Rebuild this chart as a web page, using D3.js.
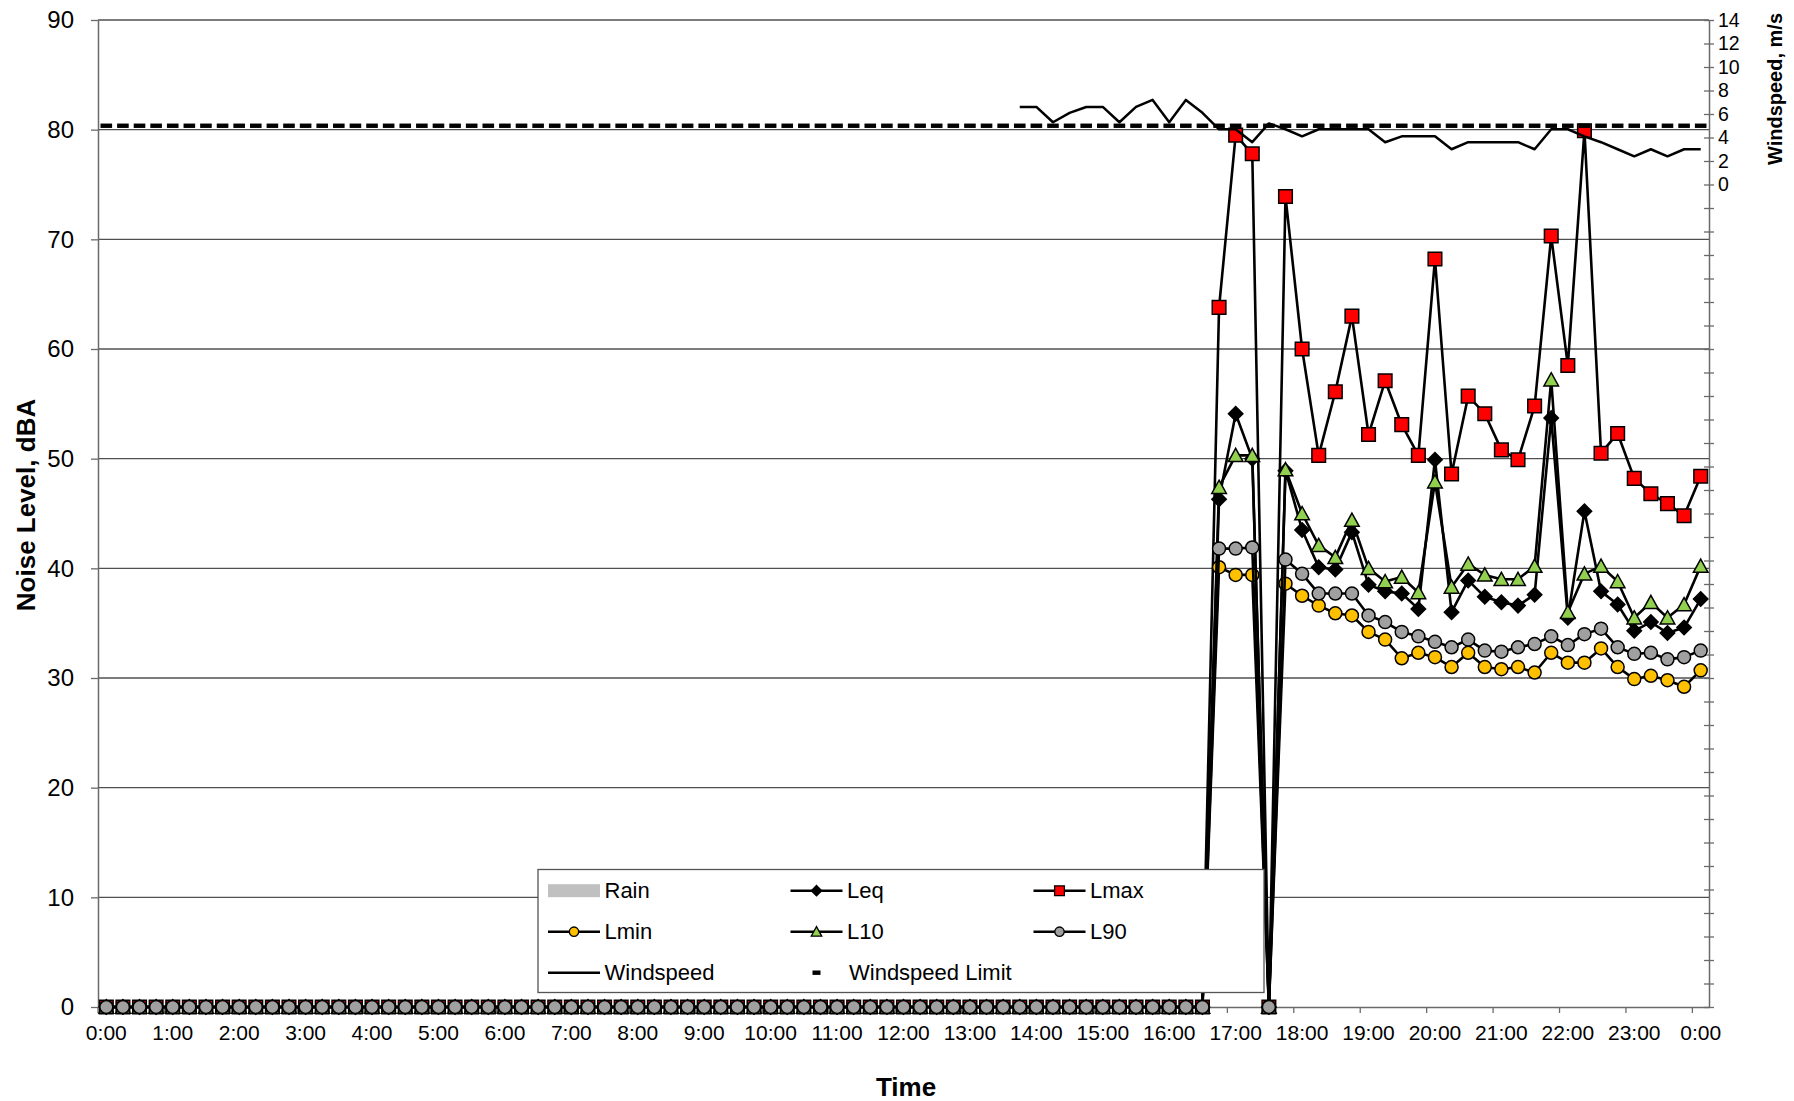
<!DOCTYPE html>
<html>
<head>
<meta charset="UTF-8">
<title>noise levels</title>
<script src="https://d3js.org/d3.v7.min.js"></script>
<style>
body { margin: 0; background: #fff; }
svg { display: block; font-family: "Liberation Sans", Arial, sans-serif; }
</style>
</head>
<body>
<svg id="chart" width="1794" height="1101"></svg>
<script>
// ---- data (15 minute intervals, 0:00 to 0:00 next day) ----
var categories = [];
for (var k = 0; k < 97; k++) {
	categories.push((Math.floor(k / 4) % 24) + ":" + ["00", "15", "30", "45"][k % 4]);
}
var tickLabels = ["0:00", "1:00", "2:00", "3:00", "4:00", "5:00", "6:00", "7:00", "8:00", "9:00",
	"10:00", "11:00", "12:00", "13:00", "14:00", "15:00", "16:00", "17:00", "18:00", "19:00",
	"20:00", "21:00", "22:00", "23:00", "0:00"];

var rain = [
	0,0,0,0,0,0,0,0,0,0,0,0,0,0,0,0, 0,0,0,0,0,0,0,0,0,0,0,0,0,0,0,0,
	0,0,0,0,0,0,0,0,0,0,0,0,0,0,0,0, 0,0,0,0,0,0,0,0,0,0,0,0,0,0,0,0,
	0,0,0,0,0,0,0,0,0,0,0,0,0,0,0,0, 0,0,0,0,0,0,0,0,0,0,0,0,0,0,0,0,
	0
];
var leq = [
	0,0,0,0,0,0,0,0,0,0,0,0,0,0,0,0, 0,0,0,0,0,0,0,0,0,0,0,0,0,0,0,0,
	0,0,0,0,0,0,0,0,0,0,0,0,0,0,0,0, 0,0,0,0,0,0,0,0,0,0,0,0,0,0,0,0,
	0,0,0,
	46.3, 54.1, 50.0, 0, 48.9, 43.5, 40.1, 39.9, 43.3, 38.5, 37.9, 37.7, 36.3, 49.9, 36.0, 38.9,
	37.4, 36.9, 36.6, 37.6, 53.7, 35.5, 45.2, 37.9, 36.7, 34.3, 35.1, 34.1, 34.6, 37.2
];
var lmax = [
	0,0,0,0,0,0,0,0,0,0,0,0,0,0,0,0, 0,0,0,0,0,0,0,0,0,0,0,0,0,0,0,0,
	0,0,0,0,0,0,0,0,0,0,0,0,0,0,0,0, 0,0,0,0,0,0,0,0,0,0,0,0,0,0,0,0,
	0,0,0,
	63.8, 79.5, 77.8, 0, 73.9, 60.0, 50.3, 56.1, 63.0, 52.2, 57.1, 53.1, 50.3, 68.2, 48.6, 55.7,
	54.1, 50.8, 49.9, 54.8, 70.3, 58.5, 79.9, 50.5, 52.3, 48.2, 46.8, 45.9, 44.8, 48.4
];
var lmin = [
	0,0,0,0,0,0,0,0,0,0,0,0,0,0,0,0, 0,0,0,0,0,0,0,0,0,0,0,0,0,0,0,0,
	0,0,0,0,0,0,0,0,0,0,0,0,0,0,0,0, 0,0,0,0,0,0,0,0,0,0,0,0,0,0,0,0,
	0,0,0,
	40.1, 39.4, 39.4, 0, 38.6, 37.5, 36.6, 35.9, 35.7, 34.2, 33.5, 31.8, 32.3, 31.9, 31.0, 32.3,
	31.0, 30.8, 31.0, 30.5, 32.3, 31.4, 31.4, 32.7, 31.0, 29.9, 30.2, 29.8, 29.2, 30.7
];
var l10 = [
	0,0,0,0,0,0,0,0,0,0,0,0,0,0,0,0, 0,0,0,0,0,0,0,0,0,0,0,0,0,0,0,0,
	0,0,0,0,0,0,0,0,0,0,0,0,0,0,0,0, 0,0,0,0,0,0,0,0,0,0,0,0,0,0,0,0,
	0,0,0,
	47.4, 50.3, 50.3, 0, 49.0, 45.0, 42.1, 41.0, 44.4, 40.0, 38.8, 39.2, 37.8, 47.9, 38.3, 40.4,
	39.4, 39.0, 39.0, 40.2, 57.2, 36.0, 39.5, 40.2, 38.8, 35.5, 36.9, 35.5, 36.7, 40.2
];
var l90 = [
	0,0,0,0,0,0,0,0,0,0,0,0,0,0,0,0, 0,0,0,0,0,0,0,0,0,0,0,0,0,0,0,0,
	0,0,0,0,0,0,0,0,0,0,0,0,0,0,0,0, 0,0,0,0,0,0,0,0,0,0,0,0,0,0,0,0,
	0,0,0,
	41.8, 41.8, 41.9, 0, 40.8, 39.5, 37.7, 37.7, 37.7, 35.7, 35.1, 34.2, 33.8, 33.3, 32.8, 33.5,
	32.5, 32.4, 32.8, 33.1, 33.8, 33.0, 34.0, 34.5, 32.8, 32.2, 32.3, 31.7, 31.9, 32.5
];
// windspeed m/s (secondary axis), no readings before 13:45
var windspeed = [
	null,null,null,null,null,null,null,null,null,null,null,null,null,null,null,null,
	null,null,null,null,null,null,null,null,null,null,null,null,null,null,null,null,
	null,null,null,null,null,null,null,null,null,null,null,null,null,null,null,null,
	null,null,null,null,null,null,null,
	6.6, 6.6, 5.3, 6.1, 6.6, 6.6, 5.3, 6.6, 7.2, 5.3, 7.2, 6.1, 4.7, 4.7, 3.6, 5.2,
	4.7, 4.1, 4.7, 4.7, 4.7, 4.7, 3.6, 4.1, 4.1, 4.1, 3.0, 3.6, 3.6, 3.6, 3.6, 3.0,
	4.7, 4.7, 4.1, 3.6, 3.0, 2.4, 3.0, 2.4, 3.0, 3.0
];
var windLimit = [
	5,5,5,5,5,5,5,5,5,5,5,5,5,5,5,5, 5,5,5,5,5,5,5,5,5,5,5,5,5,5,5,5,
	5,5,5,5,5,5,5,5,5,5,5,5,5,5,5,5, 5,5,5,5,5,5,5,5,5,5,5,5,5,5,5,5,
	5,5,5,5,5,5,5,5,5,5,5,5,5,5,5,5, 5,5,5,5,5,5,5,5,5,5,5,5,5,5,5,5,
	5
];

// ---- chart ----
var svg = d3.select("#chart");
var plotLeft = 98, plotRight = 1709, plotTop = 20, plotBottom = 1007;

var x = d3.scaleBand().domain(d3.range(categories.length)).range([plotLeft, plotRight]);
var bw = x.bandwidth();
function cx(i) { return x(i) + bw / 2; }
var y = d3.scaleLinear().domain([0, 90]).range([plotBottom, plotTop]);
var y2 = d3.scaleLinear().domain([-70, 14]).range([plotBottom, plotTop]);

var gridColor = "#505050";

// gridlines
svg.append("g").selectAll("line")
	.data(d3.range(10, 91, 10))
	.enter().append("line")
	.attr("x1", plotLeft).attr("x2", plotRight)
	.attr("y1", function(d) { return y(d); })
	.attr("y2", function(d) { return y(d); })
	.attr("stroke", gridColor).attr("stroke-width", 1.3);

// left axis
var gy = svg.append("g").attr("transform", "translate(" + plotLeft + ",0)")
	.call(d3.axisLeft(y).tickValues(d3.range(0, 91, 10)).tickSize(7).tickSizeOuter(0).tickPadding(17));
gy.attr("font-family", null).attr("font-size", null);
gy.selectAll("text").attr("font-size", "24px").attr("fill", "#000");

// bottom axis - ticks between categories, labels on category centres
var gx = svg.append("g").attr("transform", "translate(0," + plotBottom + ")")
	.call(d3.axisBottom(x).tickValues(d3.range(0, 97, 4))
		.tickFormat(function(i) { return tickLabels[i / 4]; })
		.tickSize(6).tickSizeOuter(0));
gx.attr("font-family", null).attr("font-size", null);
gx.selectAll(".tick line").attr("x1", -bw / 2).attr("x2", -bw / 2);
gx.selectAll("text").attr("y", 26).attr("dy", "0.35em").attr("font-size", "21px").attr("fill", "#000");

// right axis (windspeed) - negative values not labelled
var gr = svg.append("g").attr("transform", "translate(" + plotRight + ",0)")
	.call(d3.axisRight(y2).tickValues(d3.range(-70, 15, 2))
		.tickFormat(function(d) { return d >= 0 ? d : ""; })
		.tickSize(5).tickSizeOuter(0).tickPadding(4));
gr.attr("font-family", null).attr("font-size", null);
gr.selectAll(".tick line").attr("x1", -5);
gr.selectAll("text").attr("font-size", "19.5px").attr("fill", "#000");

[gy, gx, gr].forEach(function(g) {
	g.select(".domain").attr("stroke", "#6a6a6a").attr("stroke-width", 1.5);
	g.selectAll(".tick line").attr("stroke", "#6a6a6a").attr("stroke-width", 1.3);
});

// axis titles
svg.append("text").attr("transform", "translate(26,505) rotate(-90)")
	.attr("text-anchor", "middle").attr("dy", "0.35em")
	.attr("font-size", "26px").attr("font-weight", "bold").text("Noise Level, dBA");
svg.append("text").attr("x", 906).attr("y", 1087)
	.attr("text-anchor", "middle").attr("dy", "0.35em")
	.attr("font-size", "26px").attr("font-weight", "bold").text("Time");
svg.append("text").attr("transform", "translate(1775,89) rotate(-90)")
	.attr("text-anchor", "middle").attr("dy", "0.35em")
	.attr("font-size", "20px").attr("font-weight", "bold").text("Windspeed, m/s");

// markers
var markers = {
	diamond: "M0,-7.2L7.2,0L0,7.2L-7.2,0Z",
	square: "M-6.8,-6.8H6.8V6.8H-6.8Z",
	triangle: "M0,-7L7.3,6.2H-7.3Z",
	circle: d3.symbol().type(d3.symbolCircle).size(Math.PI * 6.5 * 6.5)()
};

// rain bars
svg.append("g").selectAll("rect")
	.data(rain)
	.enter().append("rect")
	.attr("x", function(d, i) { return x(i) + 2; })
	.attr("width", bw - 4)
	.attr("y", function(d) { return y(d); })
	.attr("height", function(d) { return y(0) - y(d); })
	.attr("fill", "#c0c0c0");

function drawSeries(vals, shape, fill) {
	var g = svg.append("g");
	var line = d3.line()
		.defined(function(d) { return d != null; })
		.x(function(d, i) { return cx(i); })
		.y(function(d) { return y(d); });
	g.append("path").attr("d", line(vals))
		.attr("fill", "none").attr("stroke", "#000").attr("stroke-width", 2.6)
		.attr("stroke-linejoin", "round");
	g.selectAll(".m").data(vals).enter().append("path")
		.attr("class", "m")
		.attr("d", markers[shape])
		.attr("transform", function(d, i) { return "translate(" + cx(i) + "," + y(d) + ")"; })
		.attr("fill", fill).attr("stroke", "#000").attr("stroke-width", 1.5);
}

drawSeries(leq, "diamond", "#000");
drawSeries(lmax, "square", "#ff0000");
drawSeries(lmin, "circle", "#ffc000");
drawSeries(l10, "triangle", "#92d050");
drawSeries(l90, "circle", "#a0a0a0");

// windspeed (secondary axis)
var windLine = d3.line()
	.defined(function(d) { return d != null; })
	.x(function(d, i) { return cx(i); })
	.y(function(d) { return y2(d); });
svg.append("path").attr("d", windLine(windspeed))
	.attr("fill", "none").attr("stroke", "#000").attr("stroke-width", 2.5)
	.attr("stroke-linejoin", "round");

// windspeed limit - dash markers only
svg.append("g").selectAll("rect")
	.data(windLimit)
	.enter().append("rect")
	.attr("x", function(d, i) { return cx(i) - 5.8; })
	.attr("y", function(d) { return y2(d) - 2.2; })
	.attr("width", 11.6).attr("height", 4.4)
	.attr("fill", "#000");

// legend
var lg = svg.append("g");
lg.append("rect").attr("x", 538).attr("y", 869.5).attr("width", 726).attr("height", 123)
	.attr("fill", "#fff").attr("stroke", "#555").attr("stroke-width", 1.3);

var legendItems = [
	{name: "Rain", kind: "bar", col: 0, row: 0},
	{name: "Leq", kind: "diamond", fill: "#000", col: 1, row: 0},
	{name: "Lmax", kind: "square", fill: "#ff0000", col: 2, row: 0},
	{name: "Lmin", kind: "circle", fill: "#ffc000", col: 0, row: 1},
	{name: "L10", kind: "triangle", fill: "#92d050", col: 1, row: 1},
	{name: "L90", kind: "circle", fill: "#a0a0a0", col: 2, row: 1},
	{name: "Windspeed", kind: "line", col: 0, row: 2},
	{name: "Windspeed Limit", kind: "dash", col: 1, row: 2}
];
var colX = [548, 790.5, 1033.5];
var rowY = [890.7, 931.7, 972.7];

legendItems.forEach(function(it) {
	var x0 = colX[it.col], yy = rowY[it.row];
	var g = lg.append("g");
	if (it.kind == "bar") {
		g.append("rect").attr("x", x0).attr("y", yy - 6.5).attr("width", 52).attr("height", 13).attr("fill", "#c0c0c0");
	} else if (it.kind == "dash") {
		g.append("rect").attr("x", x0 + 22).attr("y", yy - 2.2).attr("width", 8).attr("height", 4.4).attr("fill", "#000");
	} else {
		g.append("line").attr("x1", x0).attr("x2", x0 + 52).attr("y1", yy).attr("y2", yy)
			.attr("stroke", "#000").attr("stroke-width", 2.5);
		if (it.kind != "line") {
			g.append("path").attr("d", markers[it.kind])
				.attr("transform", "translate(" + (x0 + 26) + "," + yy + ") scale(0.72)")
				.attr("fill", it.fill).attr("stroke", "#000").attr("stroke-width", 1.8);
		}
	}
	g.append("text").attr("x", x0 + 56.5 + (it.kind == "dash" ? 2 : 0)).attr("y", yy)
		.attr("dy", "0.35em").attr("font-size", "22px").text(it.name);
});
</script>
</body>
</html>
